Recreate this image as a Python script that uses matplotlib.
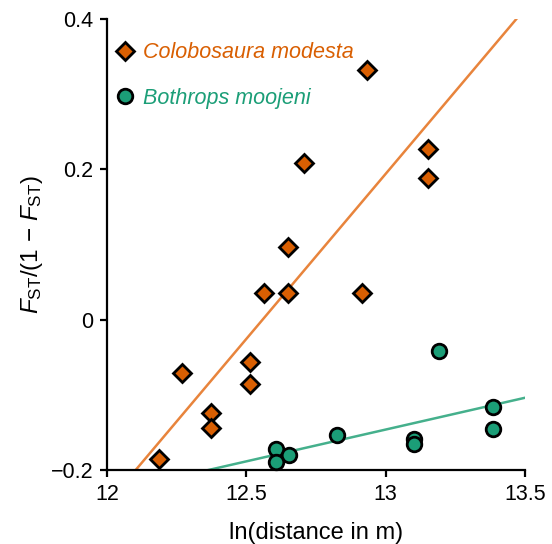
import matplotlib
matplotlib.use('Agg')
import matplotlib.pyplot as plt
import numpy as np

plt.rcParams['font.family'] = ['Liberation Sans', 'DejaVu Sans']
plt.rcParams['mathtext.fontset'] = 'custom'
plt.rcParams['mathtext.rm'] = 'Liberation Sans'
plt.rcParams['mathtext.it'] = 'Liberation Sans:italic'
plt.rcParams['mathtext.bf'] = 'Liberation Sans:bold'

# Colobosaura modesta
colo_x = [12.933, 12.708, 13.153, 13.153, 12.648, 12.563, 12.648, 12.915,
          12.513, 12.513, 12.268, 12.372, 12.372, 12.188]
colo_y = [0.332, 0.208, 0.227, 0.189, 0.097, 0.035, 0.036, 0.036,
          -0.056, -0.086, -0.071, -0.124, -0.144, -0.186]
# Bothrops moojeni
both_x = [13.192, 13.384, 13.384, 13.102, 13.102, 12.825, 12.606, 12.654, 12.606]
both_y = [-0.042, -0.116, -0.145, -0.159, -0.166, -0.153, -0.172, -0.180, -0.190]

# regression lines (slope, intercept)
colo_fit = (0.4392, -5.5156)
both_fit = (0.0846, -1.246)

labels = ['Colobosaura modesta', 'Bothrops moojeni']
xticks = [12, 12.5, 13, 13.5]
xticklabels = ['12', '12.5', '13', '13.5']
yticks = [-0.2, 0, 0.2, 0.4]
yticklabels = ['\u22120.2', '0', '0.2', '0.4']

c_or = '#D95F02'
c_or_line = '#E8843C'
c_gr = '#1B9E77'
c_gr_line = '#45B08C'

fig = plt.figure(figsize=(5.52, 5.44), dpi=100)
ax = fig.add_axes([107/552, 1 - 470/544, (525-107)/552, (470-19)/544])

xx = np.array([12.0, 13.5])
ax.plot(xx, colo_fit[0]*xx + colo_fit[1], color=c_or_line, lw=1.8, zorder=2)
ax.plot(xx, both_fit[0]*xx + both_fit[1], color=c_gr_line, lw=1.8, zorder=2)

ax.plot(colo_x, colo_y, ls='none', marker='D', ms=9.2, mfc=c_or, mec='black',
        mew=2.0, label=labels[0], zorder=3, clip_on=False)
ax.plot(both_x, both_y, ls='none', marker='o', ms=10.5, mfc=c_gr, mec='black',
        mew=2.0, label=labels[1], zorder=3, clip_on=False)

ax.set_xlim(12, 13.5)
ax.set_ylim(-0.2, 0.4)
ax.set_xticks(xticks)
ax.set_xticklabels(xticklabels)
ax.set_yticks(yticks)
ax.set_yticklabels(yticklabels)

for s in ['top', 'right']:
    ax.spines[s].set_visible(False)
for s in ['left', 'bottom']:
    ax.spines[s].set_linewidth(1.6)
ax.tick_params(direction='out', length=5, width=1.6, labelsize=15.5, pad=5)

ax.set_xlabel('ln(distance in m)', fontsize=17, labelpad=12)
ax.set_ylabel('$F_{\\mathrm{ST}}$/(1 \u2212 $F_{\\mathrm{ST}}$)',
              fontsize=17.5, labelpad=4)

leg = ax.legend(loc='upper left', bbox_to_anchor=(-0.018, 0.982), frameon=False,
                prop={'style': 'italic', 'size': 15.5},
                labelcolor=[c_or, c_gr], handlelength=1.0, handletextpad=0.3,
                labelspacing=1.15, borderaxespad=0.3, borderpad=0.4)

fig.savefig('out.png', dpi=100)
